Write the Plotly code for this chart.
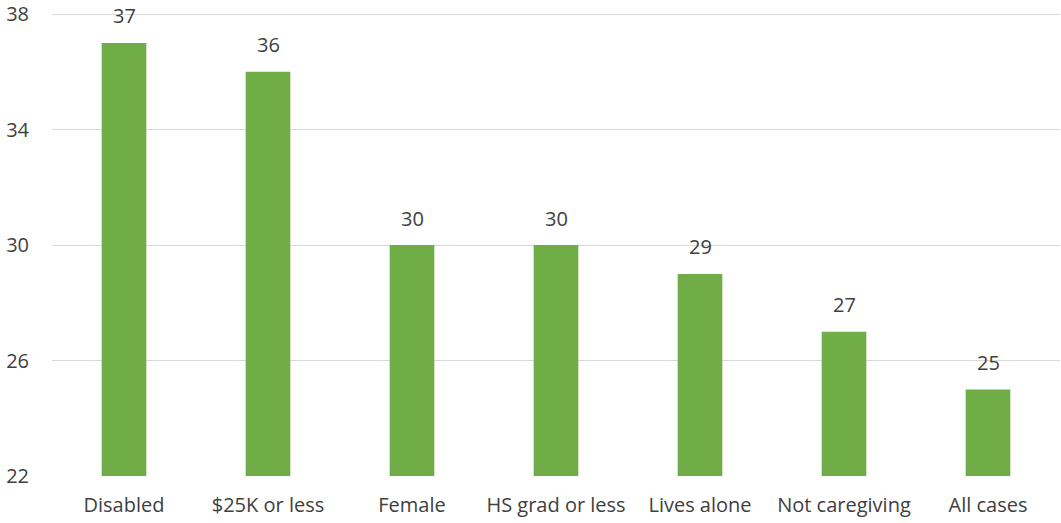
import plotly.graph_objects as go

categories = ["Disabled", "$25K or less", "Female", "HS grad or less", "Lives alone", "Not caregiving", "All cases"]
values = [37, 36, 30, 30, 29, 27, 25]
y_ticks = [22, 26, 30, 34, 38]
y_base = 22

FONT = "Open Sans, sans-serif"
TXT = "#404040"
FS = 20

fig = go.Figure(go.Bar(
    x=categories, y=[v - y_base for v in values],
    base=y_base,
    marker=dict(color="#70AD47", line=dict(width=0)),
    width=0.31,
    hoverinfo="skip",
))
for c, v in zip(categories, values):
    fig.add_annotation(x=c, y=v, text=str(v), showarrow=False, yanchor="middle", yshift=27,
                       font=dict(family=FONT, size=FS, color=TXT))

fig.update_layout(
    width=1061, height=523,
    margin=dict(l=52, r=1, t=13, b=47),
    paper_bgcolor="white", plot_bgcolor="white",
    showlegend=False,
    font=dict(family=FONT, size=FS, color=TXT),
)
fig.update_xaxes(showgrid=False, showline=False, ticks="", ticklabelstandoff=15,
                 tickfont=dict(family=FONT, size=FS, color=TXT))
fig.update_yaxes(range=[22, 38.035], tickvals=y_ticks, showgrid=True, gridcolor="#D9D9D9", gridwidth=1.3,
                 zeroline=False, showline=False, ticks="", ticklabelstandoff=22,
                 tickfont=dict(family=FONT, size=FS, color=TXT))

fig.write_html("out.html", config={"displayModeBar": False},
               post_script="document.body.style.margin='0';")
